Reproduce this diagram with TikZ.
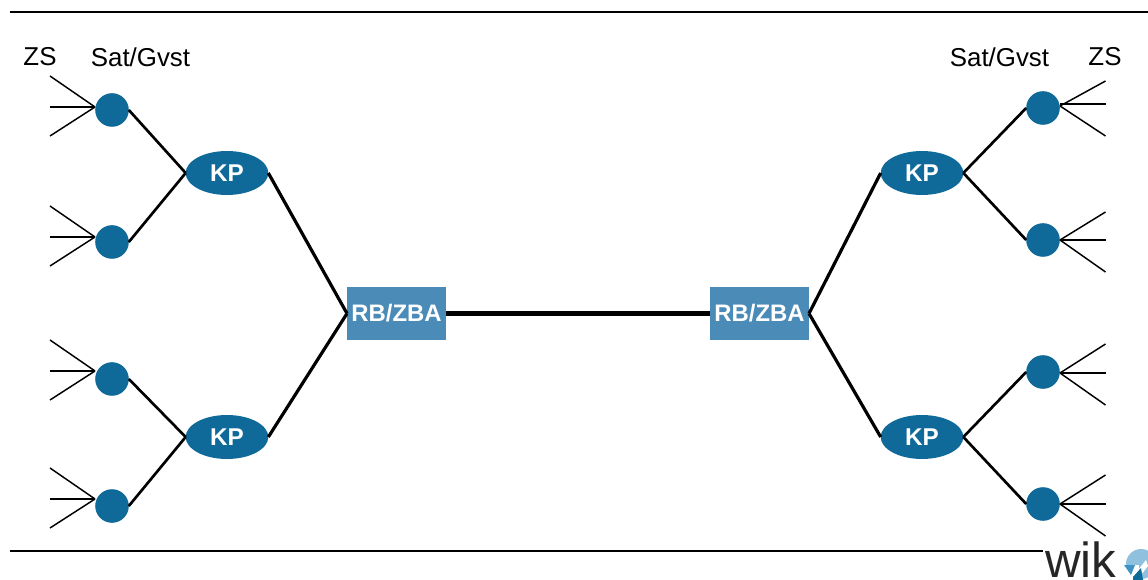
\documentclass[tikz,border=0pt]{standalone}
\usepackage{fontspec}
\setmainfont{Liberation Sans}
\usetikzlibrary{shapes.geometric}
\definecolor{nodeblue}{HTML}{106A99}
\definecolor{boxblue}{HTML}{4B8BB8}
\definecolor{logodark}{HTML}{262626}
\definecolor{logolight}{HTML}{8FC0DE}
\definecolor{logomid}{HTML}{3E93C4}
\definecolor{logodeep}{HTML}{0E6A99}
\tikzset{
  x=0.75pt,y=-0.75pt,
  satnode/.style={circle,fill=nodeblue,minimum size=25.2pt,inner sep=0pt,outer sep=0pt},
  kpnode/.style={ellipse,fill=nodeblue,minimum width=62pt,minimum height=33pt,inner sep=0pt,outer sep=0pt,text=white,font=\fontsize{18.2pt}{20pt}\selectfont\bfseries},
  rbnode/.style={rectangle,fill=boxblue,minimum width=74.25pt,minimum height=39.75pt,inner sep=0pt,outer sep=0pt,text=white,font=\fontsize{17.9pt}{20pt}\selectfont\bfseries},
  lab/.style={inner sep=0pt,font=\fontsize{19.4pt}{21pt}\selectfont},
  fanline/.style={draw=black,line width=1.1pt},
  linkthin/.style={draw=black,line width=2pt},
  linkmid/.style={draw=black,line width=2.4pt},
  linkthick/.style={draw=black,line width=4pt},
  rule/.style={draw=black,line width=1.5pt}
}
\begin{document}
\begin{tikzpicture}
\useasboundingbox (0,0) rectangle (1148,580);
% rules
\coordinate (r1a) at (10,12); \coordinate (r1b) at (1148,12);
\coordinate (r2a) at (10,551); \coordinate (r2b) at (1043,551);
\draw[rule] (r1a) -- (r1b);
\draw[rule] (r2a) -- (r2b);
% nodes
\node[satnode] (l1) at (112,110) {};
\node[satnode] (l2) at (112,242) {};
\node[satnode] (l3) at (112,379) {};
\node[satnode] (l4) at (112,506) {};
\node[satnode] (r1) at (1043,108) {};
\node[satnode] (r2) at (1043,240) {};
\node[satnode] (r3) at (1043,372) {};
\node[satnode] (r4) at (1043,504) {};
\node[kpnode] (kl1) at (227,173) {KP};
\node[kpnode] (kl2) at (227,437) {KP};
\node[kpnode] (kr1) at (922,173) {KP};
\node[kpnode] (kr2) at (922,437) {KP};
\node[rbnode] (rbl) at (396.5,313.5) {RB/ZBA};
\node[rbnode] (rbr) at (759.5,313.5) {RB/ZBA};
% labels
\node[lab] (zsl) at (40,57) {ZS};
\node[lab] (satl) at (140.5,57) {Sat/Gvst};
\node[lab] (satr) at (999.5,57) {Sat/Gvst};
\node[lab] (zsr) at (1105,57) {ZS};
% links
\foreach \a/\b in {l1/kl1,l2/kl1,l3/kl2,l4/kl2}
  \draw[linkthin] (\a.east) -- (\b.west);
\foreach \a/\b in {kr1/r1,kr1/r2,kr2/r3,kr2/r4}
  \draw[linkthin] (\a.east) -- (\b.west);
\foreach \a in {kl1,kl2}
  \draw[linkmid] (\a.east) -- (rbl.west);
\foreach \b in {kr1,kr2}
  \draw[linkmid] (rbr.east) -- (\b.west);
\draw[linkthick] (rbl.east) -- (rbr.west);
% left fans
\foreach \n/\y in {1/107,2/237,3/371,4/499}{
  \coordinate (tl\n) at (95,\y);
  \coordinate (al\n) at (50,\y-31);
  \coordinate (bl\n) at (50,\y);
  \coordinate (cl\n) at (50,\y+29);
  \draw[fanline] (al\n) -- (tl\n);
  \draw[fanline] (bl\n) -- (tl\n);
  \draw[fanline] (cl\n) -- (tl\n);
}
% right fans
\foreach \n/\t/\ya/\yb/\yc in {1/106/81/104/136,2/240/212/240/272,3/373/344/373/405,4/504/475/504/536}{
  \coordinate (tr\n) at (1060,\t);
  \coordinate (ar\n) at (1105.5,\ya);
  \coordinate (br\n) at (1105.5,\yb);
  \coordinate (cr\n) at (1105.5,\yc);
  \draw[fanline] (ar\n) -- (tr\n);
  \draw[fanline] (br\n) -- (tr\n |- br\n);
  \draw[fanline] (cr\n) -- (tr\n);
}
% logo
\node[inner sep=0pt,anchor=base west,text=logodark,font=\fontsize{37pt}{38pt}\selectfont] (logo) at (1045,577) {wik};
\begin{scope}
\clip (1120,545) rectangle (1148,580);
\fill[logolight] (1141,564) circle (15);
\fill[white] (1120,565) rectangle (1139,580);
\fill[white] (1130,580) -- (1146,560) -- (1148,566) -- (1137,580) -- cycle;
\fill[logomid] (1124,565) -- (1135,565) -- (1131,575) -- cycle;
\fill[logodeep] (1133,577) -- (1141,568) -- (1143,580) -- (1133,580) -- cycle;
\end{scope}
\end{tikzpicture}
\end{document}
